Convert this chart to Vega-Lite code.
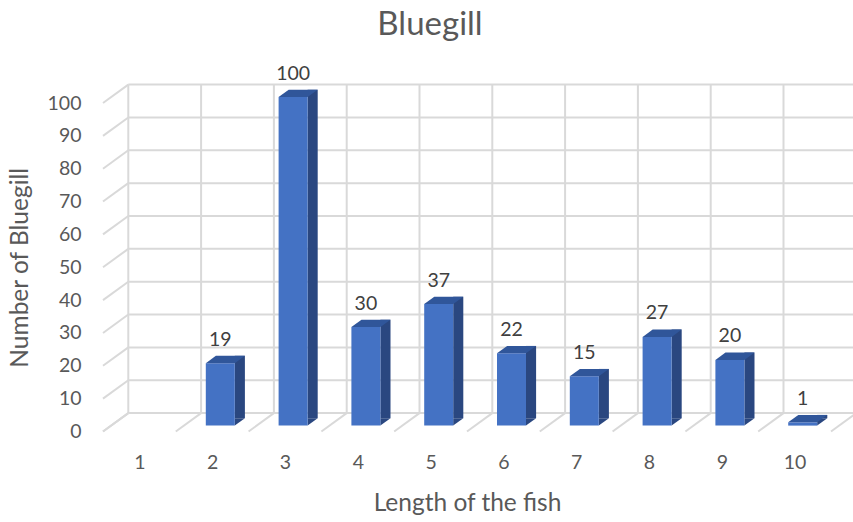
{
  "$schema": "https://vega.github.io/schema/vega-lite/v6.json",
  "width": 728,
  "height": 328.5,
  "autosize": "none",
  "padding": {"left": 103, "top": 103, "right": 22, "bottom": 90.5},
  "background": "white",
  "config": {
    "view": {"stroke": null},
    "font": "Lato",
    "axis": {"labelFont": "Lato", "titleFont": "Lato", "labelColor": "#595959", "titleColor": "#595959", "titleFontWeight": "normal"}
  },
  "title": {
    "text": "Bluegill",
    "fontSize": 33,
    "fontWeight": "normal",
    "color": "#595959",
    "font": "Lato",
    "anchor": "middle",
    "dx": -37,
    "offset": 22
  },
  "datasets": {
    "fish": [
      {"length": 1, "count": null},
      {"length": 2, "count": 19},
      {"length": 3, "count": 100},
      {"length": 4, "count": 30},
      {"length": 5, "count": 37},
      {"length": 6, "count": 22},
      {"length": 7, "count": 15},
      {"length": 8, "count": 27},
      {"length": 9, "count": 20},
      {"length": 10, "count": 1}
    ],
    "ticks": [
      {"v": 0}, {"v": 10}, {"v": 20}, {"v": 30}, {"v": 40}, {"v": 50},
      {"v": 60}, {"v": 70}, {"v": 80}, {"v": 90}, {"v": 100}
    ],
    "bounds": [
      {"b": 0.5}, {"b": 1.5}, {"b": 2.5}, {"b": 3.5}, {"b": 4.5}, {"b": 5.5},
      {"b": 6.5}, {"b": 7.5}, {"b": 8.5}, {"b": 9.5}, {"b": 10.5}
    ]
  },
  "resolve": {"axis": {"x": "independent", "y": "independent"}},
  "layer": [
    {
      "data": {"name": "ticks"},
      "mark": {"type": "rule", "color": "#d9d9d9", "strokeWidth": 2, "xOffset": 25.3, "x2Offset": 25.3, "yOffset": -18.4},
      "encoding": {
        "x": {"datum": 0.5, "type": "quantitative", "scale": {"domain": [0.5, 10.5], "nice": false, "zero": false},
              "axis": {"orient": "bottom", "values": [1, 2, 3, 4, 5, 6, 7, 8, 9, 10], "format": "d", "ticks": false, "domain": false, "grid": false,
                       "labelFontSize": 19.5, "labelPadding": 22, "title": "Length of the fish", "titleFontSize": 24.5, "titlePadding": 19}},
        "x2": {"datum": 10.5},
        "y": {"field": "v", "type": "quantitative", "scale": {"domain": [0, 100], "nice": false},
              "axis": {"orient": "left", "values": [0, 10, 20, 30, 40, 50, 60, 70, 80, 90, 100], "ticks": false, "domain": false, "grid": false,
                       "labelFontSize": 19.5, "labelPadding": 22, "title": "Number of Bluegill", "titleFontSize": 24.5, "titlePadding": 15}}
      }
    },
    {
      "data": {"name": "bounds"},
      "mark": {"type": "rule", "color": "#d9d9d9", "strokeWidth": 2, "xOffset": 25.3, "yOffset": -18.4, "y2Offset": -18.4},
      "encoding": {
        "x": {"field": "b", "type": "quantitative", "axis": null},
        "y": {"datum": 0, "type": "quantitative", "axis": null},
        "y2": {"datum": 100}
      }
    },
    {
      "data": {"name": "ticks"},
      "mark": {"type": "rule", "color": "#d9d9d9", "strokeWidth": 2, "x2Offset": 25.3, "y2Offset": -18.4},
      "encoding": {
        "x": {"datum": 0.5, "type": "quantitative", "axis": null},
        "x2": {"datum": 0.5},
        "y": {"field": "v", "type": "quantitative", "axis": null},
        "y2": {"field": "v"}
      }
    },
    {
      "data": {"name": "bounds"},
      "mark": {"type": "rule", "color": "#d9d9d9", "strokeWidth": 2, "x2Offset": 25.3, "y2Offset": -18.4},
      "encoding": {
        "x": {"field": "b", "type": "quantitative", "axis": null},
        "x2": {"field": "b"},
        "y": {"datum": 0, "type": "quantitative", "axis": null},
        "y2": {"datum": 0}
      }
    },
    {
      "data": {"name": "fish"},
      "transform": [{"filter": "isValid(datum.count)"}],
      "layer": [
        {
          "mark": {"type": "rect", "color": "#2a4780", "opacity": 1, "xOffset": 22.6, "x2Offset": 32.7, "yOffset": -13.3, "y2Offset": -13.3},
          "encoding": {
            "x": {"field": "length", "type": "quantitative", "axis": null},
            "x2": {"field": "length"},
            "y": {"field": "count", "type": "quantitative", "axis": null},
            "y2": {"datum": 0}
          }
        },
        {
          "mark": {"type": "point", "shape": "M0,0 L0,-0.74 L1.01,-0.74 Z", "size": 400, "filled": true, "color": "#2a4780", "opacity": 1, "strokeWidth": 0, "xOffset": 22.6, "yOffset": -5.9},
          "encoding": {
            "x": {"field": "length", "type": "quantitative", "axis": null},
            "y": {"datum": 0, "type": "quantitative", "axis": null}
          }
        },
        {
          "mark": {"type": "rect", "color": "#4472c4", "opacity": 1, "xOffset": -6.4, "x2Offset": 22.6, "yOffset": -5.9, "y2Offset": -5.9},
          "encoding": {
            "x": {"field": "length", "type": "quantitative", "axis": null},
            "x2": {"field": "length"},
            "y": {"field": "count", "type": "quantitative", "axis": null},
            "y2": {"datum": 0}
          }
        },
        {
          "mark": {"type": "point", "shape": "M0,0 L2.9,0 L3.91,-0.74 L1.01,-0.74 Z", "size": 400, "filled": true, "color": "#30569a", "opacity": 1, "strokeWidth": 0, "xOffset": -6.4, "yOffset": -5.9},
          "encoding": {
            "x": {"field": "length", "type": "quantitative", "axis": null},
            "y": {"field": "count", "type": "quantitative", "axis": null}
          }
        },
        {
          "mark": {"type": "text", "font": "Lato", "fontSize": 19.5, "color": "#404040", "align": "center", "baseline": "alphabetic", "dx": 8.1, "dy": -23.4},
          "encoding": {
            "x": {"field": "length", "type": "quantitative", "axis": null},
            "y": {"field": "count", "type": "quantitative", "axis": null},
            "text": {"field": "count", "type": "quantitative"}
          }
        }
      ]
    }
  ]
}
